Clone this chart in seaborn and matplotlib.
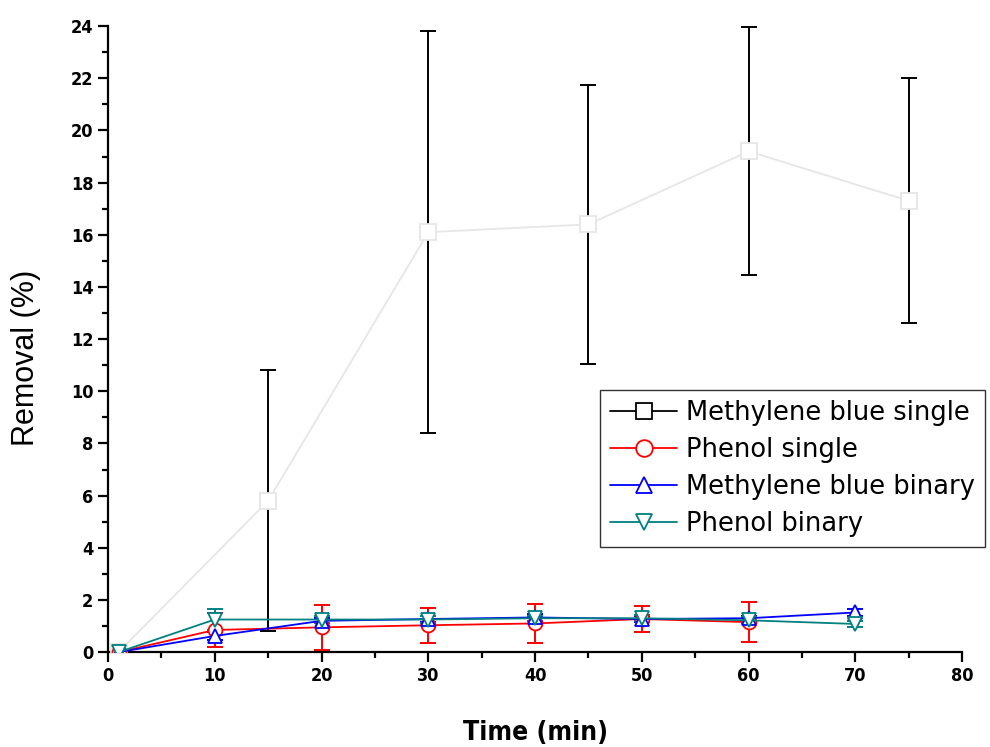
import matplotlib
matplotlib.use("Agg")
import matplotlib.pyplot as plt
from matplotlib.lines import Line2D
from matplotlib.ticker import MultipleLocator
import pandas as pd
import seaborn as sns

# === Datos ===
t_mb_single = [1, 15, 30, 45, 60, 75]
mb_single = [0.0, 5.8, 16.1, 16.4, 19.2, 17.3]
mb_single_err = [0.0, 5.0, 7.7, 5.35, 4.75, 4.7]

t_ph_single = [1, 10, 20, 30, 40, 50, 60]
ph_single = [0.0, 0.85, 0.95, 1.03, 1.1, 1.27, 1.15]
ph_single_err = [0.0, 0.65, 0.85, 0.68, 0.75, 0.5, 0.77]

t_binary = [1, 10, 20, 30, 40, 50, 60, 70]
mb_binary = [0.0, 0.62, 1.2, 1.27, 1.33, 1.27, 1.3, 1.52]
mb_binary_err = [0.0, 0.15, 0.1, 0.12, 0.12, 0.1, 0.1, 0.12]
ph_binary = [0.0, 1.25, 1.25, 1.25, 1.3, 1.3, 1.22, 1.08]
ph_binary_err = [0.0, 0.4, 0.12, 0.12, 0.1, 0.12, 0.12, 0.12]

labels = ["Methylene blue single", "Phenol single",
          "Methylene blue binary", "Phenol binary"]

sns.set_style("ticks")
plt.rcParams["font.family"] = ["Liberation Sans", "DejaVu Sans"]
plt.rcParams["text.color"] = "black"
plt.rcParams["axes.labelcolor"] = "black"
plt.rcParams["xtick.color"] = "black"
plt.rcParams["ytick.color"] = "black"
plt.rcParams["axes.edgecolor"] = "black"

fig = plt.figure(figsize=(9.9, 7.47), dpi=100)
ax = fig.add_axes([0.109, 0.127, 0.863, 0.838])

series = [
    (t_mb_single, mb_single, mb_single_err, "#e6e6e6", "black", "s", 12),
    (t_ph_single, ph_single, ph_single_err, "red", "red", "o", 10),
    (t_binary, mb_binary, mb_binary_err, "blue", "blue", "^", 10),
    (t_binary, ph_binary, ph_binary_err, "#008080", "#008080", "v", 10),
]

for t, y, e, lc, ec, m, ms in series:
    ax.errorbar(t[1:], y[1:], yerr=e[1:], fmt="none", ecolor=ec,
                elinewidth=1.4, capsize=6, capthick=1.4, zorder=2)
    df = pd.DataFrame({"t": t, "y": y})
    sns.lineplot(data=df, x="t", y="y", ax=ax, color=lc, lw=1.3,
                 marker=m, markersize=ms, markerfacecolor="white",
                 markeredgecolor=lc, markeredgewidth=1.3, zorder=3)

ax.set_xlim(0, 80)
ax.set_ylim(0, 24)
ax.xaxis.set_major_locator(MultipleLocator(10))
ax.xaxis.set_minor_locator(MultipleLocator(5))
ax.yaxis.set_major_locator(MultipleLocator(2))
ax.yaxis.set_minor_locator(MultipleLocator(1))
ax.tick_params(which="major", direction="out", length=7, width=1.6)
ax.tick_params(which="minor", direction="out", length=4, width=1.6)
for s in ["left", "bottom"]:
    ax.spines[s].set_linewidth(1.6)
for s in ["top", "right"]:
    ax.spines[s].set_visible(False)
for lab in ax.get_xticklabels() + ax.get_yticklabels():
    lab.set_family("DejaVu Sans")
    lab.set_stretch("condensed")
    lab.set_fontweight("bold")
    lab.set_fontsize(13)

ax.set_xlabel("Time (min)", family="DejaVu Sans", fontstretch="condensed",
              fontweight="bold", fontsize=19)
ax.set_ylabel("Removal (%)", fontsize=22)
ax.xaxis.set_label_coords(0.5, -0.108)
ax.yaxis.set_label_coords(-0.078, 0.47)

# Leyenda manual (la serie MB single se ve en negro en la leyenda)
handles = []
for (t, y, e, lc, ec, m, ms), lab in zip(series, labels):
    col = "black" if m == "s" else lc
    handles.append(Line2D([0], [0], color=col, lw=1.3, marker=m,
                          markersize=12, markerfacecolor="white",
                          markeredgecolor=col, markeredgewidth=1.3))
fig.legend(handles, labels, loc="upper left", bbox_to_anchor=(0.606, 0.478),
           frameon=True, fancybox=False, edgecolor="black",
           prop={"family": "DejaVu Sans", "size": 18.5},
           handlelength=2.6, labelspacing=0.42, borderpad=0.4,
           handletextpad=0.35, borderaxespad=0)

fig.savefig("out.png", dpi=100)
plt.close(fig)
